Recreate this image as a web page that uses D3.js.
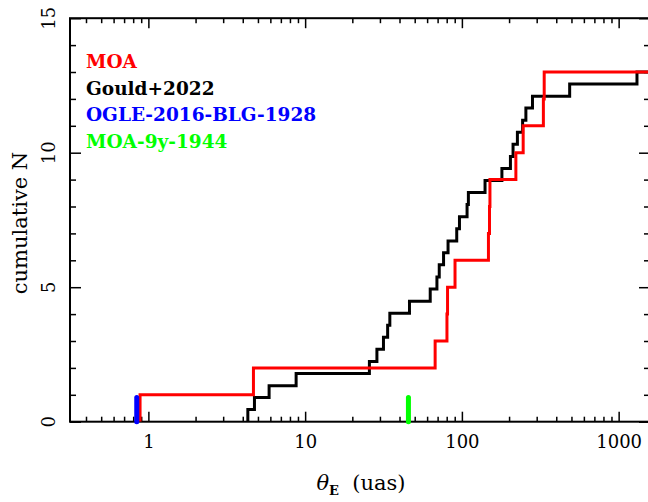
<!DOCTYPE html>
<html>
<head>
<meta charset="utf-8">
<script src="https://cdn.jsdelivr.net/npm/d3@7"></script>
<style>
  body { margin: 0; background: #fff; }
</style>
</head>
<body>
<svg id="chart" width="648" height="502"></svg>
<script>
// MOA sample: Einstein radius (uas) of each event, and the running count
const moaTheta = [0.885, 4.68, 67.5, 80.3, 81.0, 90.4, 147.7, 150, 151, 221, 246, 331, 335];
const moaN = [1, 2, 3, 4, 5, 6, 7, 8, 9, 10, 11, 12, 13];

// Gould+2022 sample, rescaled cumulative count
const gouldTheta = [4.31, 4.75, 5.89, 8.76, 25.7, 28.7, 31.6, 33.6, 34.7, 46.3,
  62.8, 69.3, 71.7, 76.4, 81.6, 92.7, 96.5, 107.9, 110, 140.5,
  180, 204, 212, 226, 244, 256, 282, 487, 1309];
const gouldN = [0.45, 0.90, 1.34, 1.79, 2.24, 2.69, 3.14, 3.59, 4.03, 4.48,
  4.93, 5.38, 5.83, 6.28, 6.72, 7.17, 7.62, 8.07, 8.52, 8.97,
  9.41, 9.86, 10.31, 10.76, 11.21, 11.66, 12.10, 12.55, 13.00];

// single events marked as short bars at the bottom
const markerNames = ['OGLE-2016-BLG-1928', 'MOA-9y-1944'];
const markerTheta = [0.843, 45.6];
const markerColors = ['#0000ff', '#00ff00'];
const markerHeight = 0.9;

const legendLabels = ['MOA', 'Gould+2022', 'OGLE-2016-BLG-1928', 'MOA-9y-1944'];
const legendColors = ['#ff0000', '#000000', '#0000ff', '#00ff00'];

const xDomain = [Math.pow(10, -0.5), Math.pow(10, 3.2)];
const yDomain = [0, 15];

const margin = { left: 70, right: 650, top: 18.2, bottom: 421.7 };
const serif = "'DejaVu Serif', 'Liberation Serif', serif";

const svg = d3.select('#chart');
svg.append('rect').attr('width', 648).attr('height', 502).attr('fill', '#fff');

const x = d3.scaleLog().domain(xDomain).range([margin.left, margin.right]);
const y = d3.scaleLinear().domain(yDomain).range([margin.bottom, margin.top]);

const xAll = x.ticks();
const xMajor = xAll.filter(d => Math.abs(Math.log10(d) - Math.round(Math.log10(d))) < 1e-9);
const xMinor = xAll.filter(d => !xMajor.includes(d));
const yAll = y.ticks(15);
const yMajor = yAll.filter(d => d % 5 === 0);
const yMinor = yAll.filter(d => d % 5 !== 0);

function addAxis(gen, transform) {
  const g = svg.append('g').attr('transform', transform).call(gen);
  g.select('.domain').remove();
  g.selectAll('line').attr('stroke', '#000').attr('stroke-width', 1.5);
  g.attr('font-family', serif).attr('font-size', 18);
  g.selectAll('text').attr('fill', '#000');
  return g;
}

// ticks point inwards on all four sides
addAxis(d3.axisBottom(x).tickValues(xMajor).tickSize(-10).tickPadding(14).tickFormat(d3.format('d')), `translate(0,${margin.bottom})`);
addAxis(d3.axisBottom(x).tickValues(xMinor).tickSize(-5).tickFormat(''), `translate(0,${margin.bottom})`);
addAxis(d3.axisTop(x).tickValues(xMajor).tickSize(-10).tickFormat(''), `translate(0,${margin.top})`);
addAxis(d3.axisTop(x).tickValues(xMinor).tickSize(-5).tickFormat(''), `translate(0,${margin.top})`);
addAxis(d3.axisLeft(y).tickValues(yMajor).tickSize(-11).tickFormat(''), `translate(${margin.left},0)`);
addAxis(d3.axisLeft(y).tickValues(yMinor).tickSize(-6).tickFormat(''), `translate(${margin.left},0)`);
addAxis(d3.axisRight(y).tickValues(yMajor).tickSize(-11).tickFormat(''), `translate(${margin.right},0)`);
addAxis(d3.axisRight(y).tickValues(yMinor).tickSize(-6).tickFormat(''), `translate(${margin.right},0)`);

// rotated y tick labels
svg.append('g').selectAll('text')
  .data(yMajor)
  .join('text')
  .attr('font-family', serif)
  .attr('font-size', 18)
  .attr('text-anchor', 'middle')
  .attr('transform', d => `translate(55,${y(d)}) rotate(-90)`)
  .text(d => d);

// frame
svg.append('rect')
  .attr('x', margin.left).attr('y', margin.top)
  .attr('width', margin.right - margin.left)
  .attr('height', margin.bottom - margin.top)
  .attr('fill', 'none').attr('stroke', '#000').attr('stroke-width', 2);

svg.append('clipPath').attr('id', 'plot')
  .append('rect')
  .attr('x', margin.left).attr('y', margin.top)
  .attr('width', margin.right - margin.left)
  .attr('height', margin.bottom - margin.top);

const plot = svg.append('g').attr('clip-path', 'url(#plot)');

function stepPoints(thetas, ns) {
  const pts = [[thetas[0], 0]];
  thetas.forEach((t, i) => pts.push([t, ns[i]]));
  pts.push([xDomain[1], ns[ns.length - 1]]);
  return pts;
}

const line = d3.line()
  .x(d => x(d[0]))
  .y(d => y(d[1]))
  .curve(d3.curveStepAfter);

plot.append('path')
  .datum(stepPoints(gouldTheta, gouldN))
  .attr('d', line)
  .attr('fill', 'none').attr('stroke', '#000').attr('stroke-width', 3);

plot.append('path')
  .datum(stepPoints(moaTheta, moaN))
  .attr('d', line)
  .attr('fill', 'none').attr('stroke', '#ff0000').attr('stroke-width', 3);

svg.append('g').selectAll('line')
  .data(markerTheta)
  .join('line')
  .attr('x1', d => x(d)).attr('x2', d => x(d))
  .attr('y1', y(0)).attr('y2', y(markerHeight))
  .attr('stroke', (d, i) => markerColors[i])
  .attr('stroke-width', 5)
  .attr('stroke-linecap', 'round');

// legend
svg.append('g').selectAll('text')
  .data(legendLabels)
  .join('text')
  .attr('x', 86)
  .attr('y', (d, i) => 67.7 + i * 26.8)
  .attr('font-family', serif)
  .attr('font-weight', 'bold')
  .attr('font-size', 18.5)
  .attr('fill', (d, i) => legendColors[i])
  .text(d => d);

// axis titles
svg.append('text')
  .attr('transform', 'translate(27,223) rotate(-90)')
  .attr('text-anchor', 'middle')
  .attr('font-family', serif)
  .attr('font-size', 21)
  .text('cumulative N');

const xt = svg.append('text')
  .attr('x', 361).attr('y', 490)
  .attr('text-anchor', 'middle')
  .attr('font-family', serif)
  .attr('font-size', 21);
xt.append('tspan').attr('font-style', 'italic').text('θ');
xt.append('tspan').attr('dy', 5).attr('font-size', 13).attr('font-weight', 'bold').text('E');
xt.append('tspan').attr('dy', -5).text('\u00a0\u00a0(uas)');
</script>
</body>
</html>
